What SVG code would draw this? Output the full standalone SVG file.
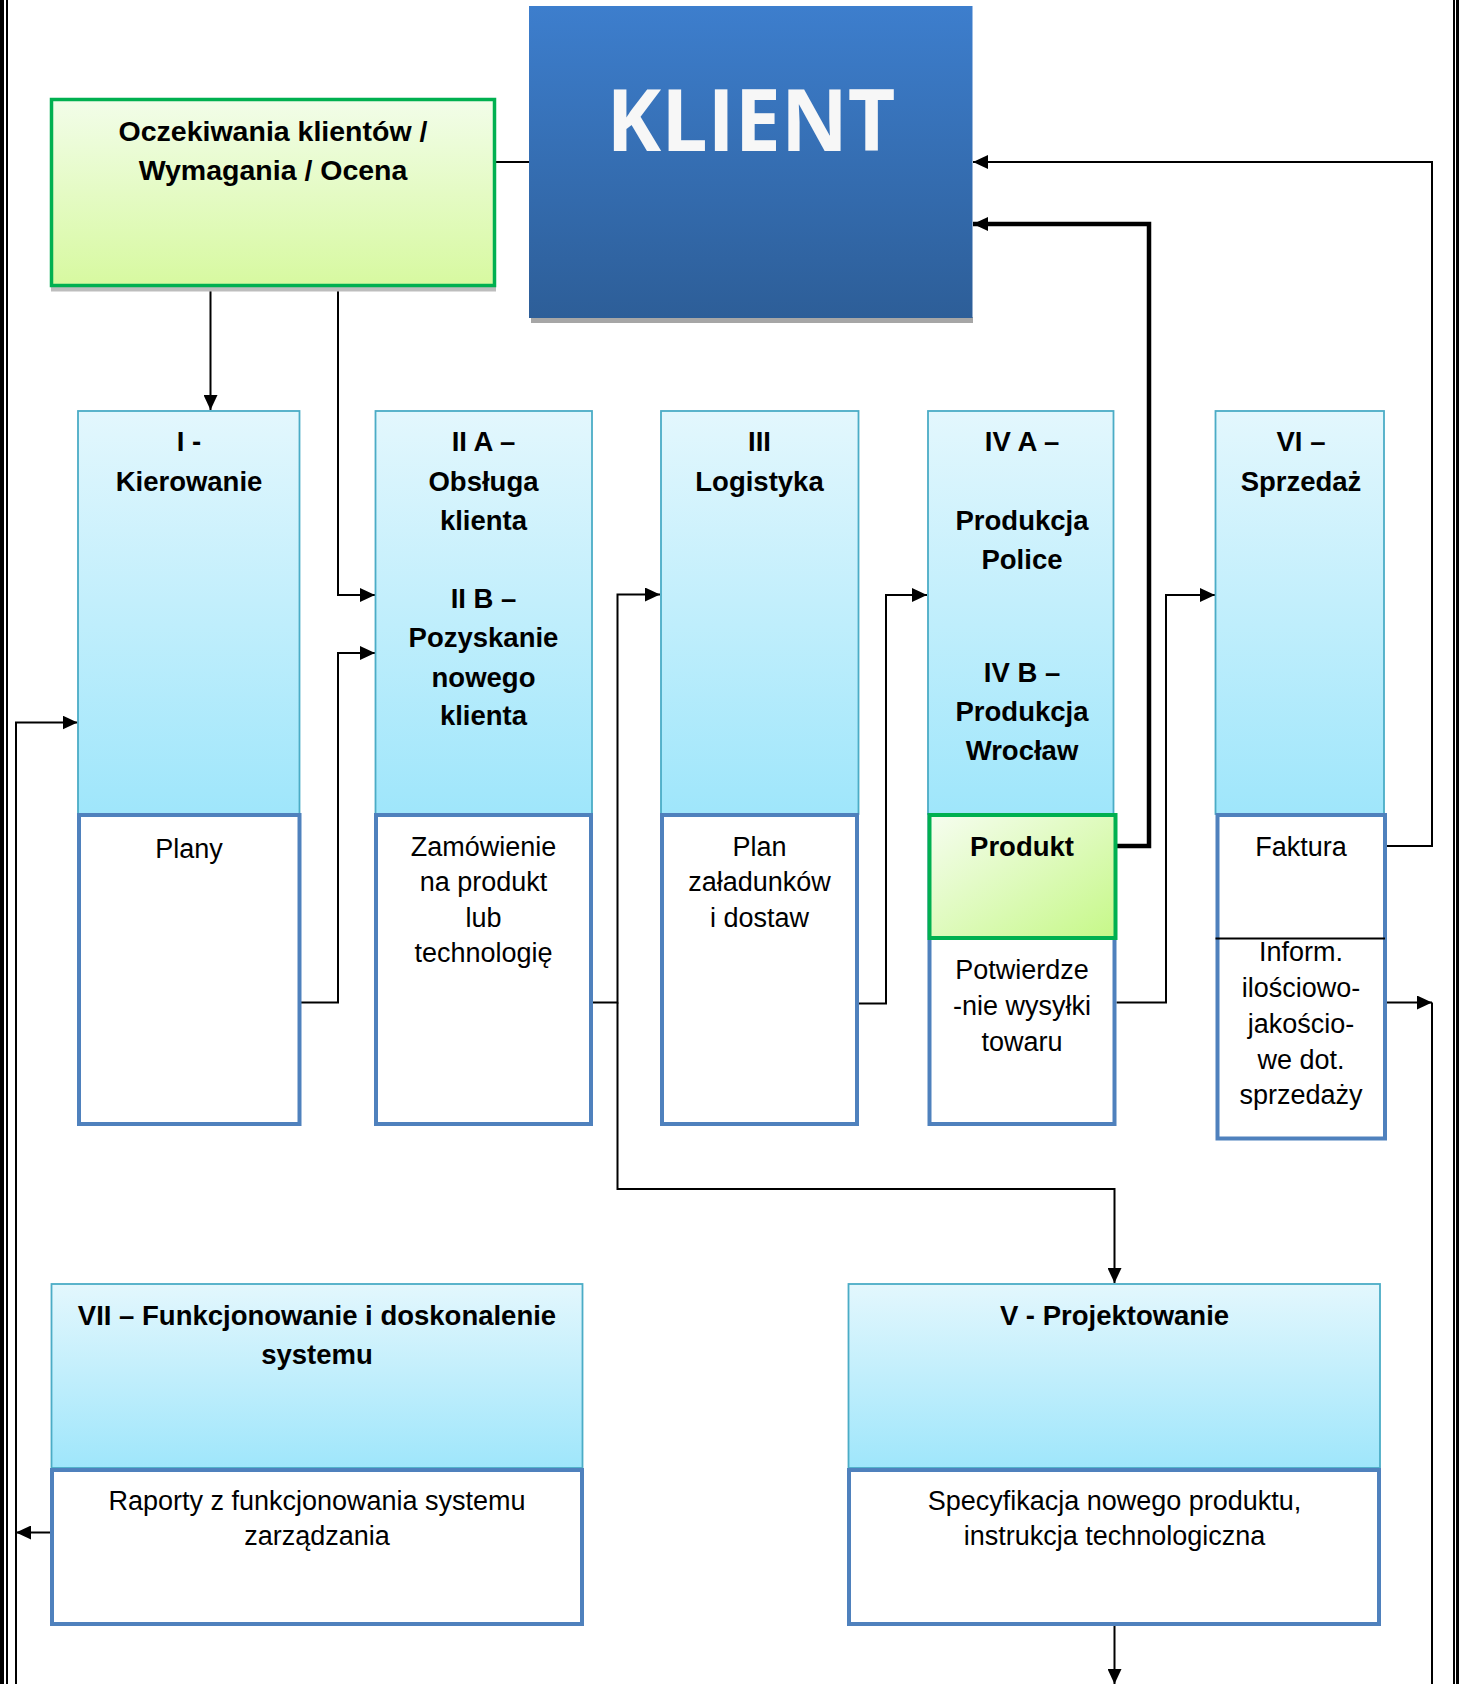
<svg xmlns="http://www.w3.org/2000/svg" width="1459" height="1684" viewBox="0 0 1459 1684">
<style>
.hdr{fill:url(#gHdr);stroke:#4bacc6;stroke-width:1.8}
.low{fill:#ffffff;stroke:#4f81bd;stroke-width:4}
.tb{font-family:"Liberation Sans",Arial,sans-serif;font-weight:bold;font-size:27.5px;fill:#000;text-anchor:middle}
.tr{font-family:"Liberation Sans",Arial,sans-serif;font-size:27px;fill:#000;text-anchor:middle}
.con{fill:none;stroke:#000;stroke-width:2}
.thick{fill:none;stroke:#000;stroke-width:4.5}
.bord{fill:#000}
</style>
<defs>
<linearGradient id="gHdr" x1="0" y1="0" x2="0" y2="1">
<stop offset="0" stop-color="#e3f7fd"/>
<stop offset="1" stop-color="#9fe6fb"/>
</linearGradient>
<linearGradient id="gGreen" x1="0" y1="0" x2="0" y2="1">
<stop offset="0" stop-color="#f2fde9"/>
<stop offset="1" stop-color="#d7f9a0"/>
</linearGradient>
<linearGradient id="gProd" x1="0" y1="0" x2="1" y2="1">
<stop offset="0" stop-color="#f6fdf0"/>
<stop offset="1" stop-color="#c6f888"/>
</linearGradient>
<linearGradient id="gBlue" x1="0" y1="0" x2="0" y2="1">
<stop offset="0" stop-color="#3d7ecd"/>
<stop offset="1" stop-color="#2d5e98"/>
</linearGradient>
<marker id="ah" markerWidth="15" markerHeight="14" refX="15" refY="7" orient="auto" markerUnits="userSpaceOnUse">
<path d="M0,0 L15,7 L0,14 z" fill="#000"/>
</marker>
</defs>

<rect width="1459" height="1684" fill="#ffffff"/>

<!-- page border -->
<g id="page-border">
<rect class="bord" x="0" y="0" width="4" height="1684"/>
<rect class="bord" x="6" y="0" width="2" height="1684"/>
<rect class="bord" x="1453" y="0" width="2" height="1684"/>
<rect class="bord" x="1456" y="0" width="3" height="1684"/>
</g>

<!-- connectors -->
<g id="connectors">
<path class="con" d="M496,162 H529"/>
<path class="con" d="M210.5,287 V410" marker-end="url(#ah)"/>
<path class="con" d="M338,287 V595 H375" marker-end="url(#ah)"/>
<path class="con" d="M301,1002.5 H338 V653 H375" marker-end="url(#ah)"/>
<path class="con" d="M593,1002.5 H617.5 V594.5 H660" marker-end="url(#ah)"/>
<path class="con" d="M617.5,1002.5 V1189 H1114.5 V1283" marker-end="url(#ah)"/>
<path class="con" d="M859,1003.5 H886 V595 H927" marker-end="url(#ah)"/>
<path class="con" d="M1116.5,1002.5 H1166 V595 H1215" marker-end="url(#ah)"/>
<path class="con" d="M1386.5,1002.5 H1432" marker-end="url(#ah)"/>
<path class="con" d="M1432,1002.5 V1684"/>
<path class="con" d="M1386.5,846 H1432 V162 H973" marker-end="url(#ah)"/>
<path class="thick" d="M1116.5,846 H1149 V224 H973" marker-end="url(#ah)"/>
<path class="con" d="M50,1532.5 H16" marker-end="url(#ah)"/>
<path class="con" d="M16,1684 V722.5 H77.5" marker-end="url(#ah)"/>
<path class="con" d="M1114.5,1626 V1684" marker-end="url(#ah)"/>
</g>

<!-- Oczekiwania -->
<g id="oczekiwania">
<rect x="51" y="287" width="445" height="4.5" fill="#bdbdbd"/>
<rect x="51.5" y="99.5" width="443" height="186" fill="url(#gGreen)" stroke="#00b050" stroke-width="3.5"/>
<text class="tb" x="273" y="141" style="font-size:28.5px">Oczekiwania klientów /</text>
<text class="tb" x="273" y="180" style="font-size:28.5px">Wymagania / Ocena</text>
</g>

<!-- KLIENT -->
<g id="klient">
<rect x="531" y="317" width="442" height="6" fill="#a6a6a6"/>
<rect x="529" y="6" width="443.5" height="312" fill="url(#gBlue)"/>
<text x="751" y="151" font-family="'Open Sans','Liberation Sans',sans-serif" font-weight="bold" font-size="86" fill="#f7f7f7" text-anchor="middle" textLength="289" lengthAdjust="spacingAndGlyphs">KLIENT</text>
</g>

<!-- I Kierowanie -->
<g id="kierowanie">
<rect class="hdr" x="78" y="411" width="221.5" height="403"/>
<rect class="low" x="79" y="815" width="220.5" height="309"/>
<text class="tb" x="189" y="451">I -</text>
<text class="tb" x="189" y="491">Kierowanie</text>
<text class="tr" x="189" y="858">Plany</text>
</g>

<!-- II Obsluga -->
<g id="obsluga">
<rect class="hdr" x="375.5" y="411" width="216.5" height="403"/>
<rect class="low" x="376" y="815" width="215" height="309"/>
<text class="tb" x="483.5" y="451">II A –</text>
<text class="tb" x="483.5" y="491">Obsługa</text>
<text class="tb" x="483.5" y="530">klienta</text>
<text class="tb" x="483.5" y="607.5">II B –</text>
<text class="tb" x="483.5" y="647">Pozyskanie</text>
<text class="tb" x="483.5" y="687">nowego</text>
<text class="tb" x="483.5" y="725">klienta</text>
<text class="tr" x="483.5" y="855.5">Zamówienie</text>
<text class="tr" x="483.5" y="891">na produkt</text>
<text class="tr" x="483.5" y="927">lub</text>
<text class="tr" x="483.5" y="962">technologię</text>
</g>

<!-- III Logistyka -->
<g id="logistyka">
<rect class="hdr" x="661" y="411" width="197.5" height="403"/>
<rect class="low" x="662" y="815" width="195" height="309"/>
<text class="tb" x="759.5" y="451">III</text>
<text class="tb" x="759.5" y="491">Logistyka</text>
<text class="tr" x="759.5" y="855.5">Plan</text>
<text class="tr" x="759.5" y="891">załadunków</text>
<text class="tr" x="759.5" y="927">i dostaw</text>
</g>

<!-- IV Produkcja -->
<g id="produkcja">
<rect class="hdr" x="928" y="411" width="185.5" height="403"/>
<rect class="low" x="929.5" y="815" width="185" height="309"/>
<rect x="929.5" y="815" width="186" height="123" fill="url(#gProd)" stroke="#00b050" stroke-width="4"/>
<text class="tb" x="1022" y="451">IV A –</text>
<text class="tb" x="1022" y="530">Produkcja</text>
<text class="tb" x="1022" y="568.5">Police</text>
<text class="tb" x="1022" y="682">IV B –</text>
<text class="tb" x="1022" y="721">Produkcja</text>
<text class="tb" x="1022" y="759.5">Wrocław</text>
<text class="tb" x="1022" y="855.5">Produkt</text>
<text class="tr" x="1022" y="979">Potwierdze</text>
<text class="tr" x="1022" y="1015">-nie wysyłki</text>
<text class="tr" x="1022" y="1051">towaru</text>
</g>

<!-- VI Sprzedaz -->
<g id="sprzedaz">
<rect class="hdr" x="1215.5" y="411" width="168.5" height="403"/>
<rect class="low" x="1217.5" y="815" width="167.5" height="323.5"/>
<line x1="1215.5" y1="938.5" x2="1385" y2="938.5" stroke="#000" stroke-width="2"/>
<text class="tb" x="1301" y="451">VI –</text>
<text class="tb" x="1301" y="491">Sprzedaż</text>
<text class="tr" x="1301" y="855.5">Faktura</text>
<text class="tr" x="1301" y="961">Inform.</text>
<text class="tr" x="1301" y="996.5">ilościowo-</text>
<text class="tr" x="1301" y="1032.5">jakościo-</text>
<text class="tr" x="1301" y="1068.5">we dot.</text>
<text class="tr" x="1301" y="1104">sprzedaży</text>
</g>

<!-- VII Funkcjonowanie -->
<g id="funkcjonowanie">
<rect class="hdr" x="51.5" y="1284" width="531" height="184"/>
<rect class="low" x="52" y="1470" width="530" height="154"/>
<text class="tb" x="317" y="1324.5">VII – Funkcjonowanie i doskonalenie</text>
<text class="tb" x="317" y="1363.5">systemu</text>
<text class="tr" x="317" y="1509.5">Raporty z funkcjonowania systemu</text>
<text class="tr" x="317" y="1545">zarządzania</text>
</g>

<!-- V Projektowanie -->
<g id="projektowanie">
<rect class="hdr" x="848.5" y="1284" width="531.5" height="184"/>
<rect class="low" x="849" y="1470" width="530" height="154"/>
<text class="tb" x="1114.5" y="1324.5">V - Projektowanie</text>
<text class="tr" x="1114.5" y="1509.5">Specyfikacja nowego produktu,</text>
<text class="tr" x="1114.5" y="1545">instrukcja technologiczna</text>
</g>
</svg>
